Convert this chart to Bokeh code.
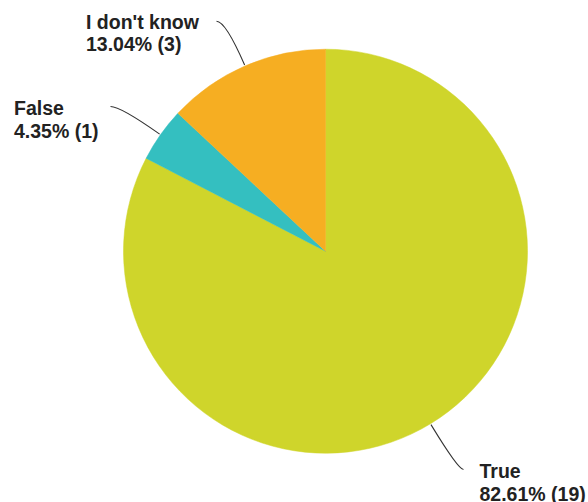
import math
from bokeh.plotting import figure
from bokeh.models import Range1d, ColumnDataSource
from bokeh.embed import file_html
from bokeh.resources import INLINE
from bokeh.core.properties import value

# ---- data ----
categories = ["True", "False", "I don't know"]
counts = [19, 1, 3]
colors = ["#CFD52B", "#34BFC0", "#F6AE22"]

# ---- layout (page pixel coordinates, origin top-left) ----
PAGE_W, PAGE_H = 588, 502
CENTER = (325.0, 250.7)
RADIUS = 202.0
# label anchor: x, first baseline, second baseline, leader end x, leader end y
LABEL_POS = {
    "True": (479.0, 477.3, 500.0, 463.0, 469.0),
    "False": (13.5, 114.0, 136.7, 110.0, 106.0),
    "I don't know": (85.5, 27.7, 50.0, 216.0, 20.7),
}
TEXT_SHIFT = 6.5  # compensates renderer's baseline placement
FONT = "Liberation Sans"


def sy(Y):
    return PAGE_H - Y


total = float(sum(counts))
starts, ends, mids = [], [], []
cum = 0.0
for c in counts:
    c0 = cum / total
    c1 = (cum + c) / total
    # slices run clockwise from 12 o'clock
    starts.append(math.radians(90 - 360 * c1))
    ends.append(math.radians(90 - 360 * c0))
    mids.append(math.radians(90 - 360 * (c0 + c1) / 2))
    cum += c

p = figure(width=PAGE_W, height=PAGE_H, x_range=Range1d(0, PAGE_W), y_range=Range1d(0, PAGE_H),
           toolbar_location=None, output_backend="svg", min_border=0,
           outline_line_color=None, background_fill_color="white")
p.axis.visible = False
p.grid.visible = False

src = ColumnDataSource(dict(start=starts, end=ends, color=colors, cat=categories))
p.wedge(x=CENTER[0], y=sy(CENTER[1]), radius=RADIUS, start_angle="start", end_angle="end",
        direction="anticlock", fill_color="color", line_color="color", line_width=0.5,
        source=src)

# leader lines
lx0, ly0, lx1, ly1, lcx, lcy = [], [], [], [], [], []
for cat, a in zip(categories, mids):
    x_t, b1, b2, ex, ey = LABEL_POS[cat]
    px = CENTER[0] + (RADIUS + 1) * math.cos(a)
    py = sy(CENTER[1]) + (RADIUS + 1) * math.sin(a)
    ey_d = sy(ey)
    # control point: radial line meets label's horizontal
    t = (ey_d - py) / math.sin(a)
    cx = px + t * math.cos(a)
    lx0.append(ex); ly0.append(ey_d)
    lx1.append(px); ly1.append(py)
    lcx.append(cx); lcy.append(ey_d)
p.quadratic(x0=lx0, y0=ly0, x1=lx1, y1=ly1, cx=lcx, cy=lcy,
            line_color="#333333", line_width=1.1)

# labels
tx, ty, tt = [], [], []
for cat, c in zip(categories, counts):
    x_t, b1, b2, ex, ey = LABEL_POS[cat]
    tx += [x_t, x_t]
    ty += [sy(b1 - TEXT_SHIFT), sy(b2 - TEXT_SHIFT)]
    tt += [cat, f"{100 * c / total:.2f}% ({c})"]
p.text(x=tx, y=ty, text=tt, text_font=value(FONT), text_font_style="bold",
       text_font_size="19.5px", text_color="#222222", text_align="left",
       text_baseline="alphabetic")

open("out.html", "w").write(file_html(p, INLINE))
